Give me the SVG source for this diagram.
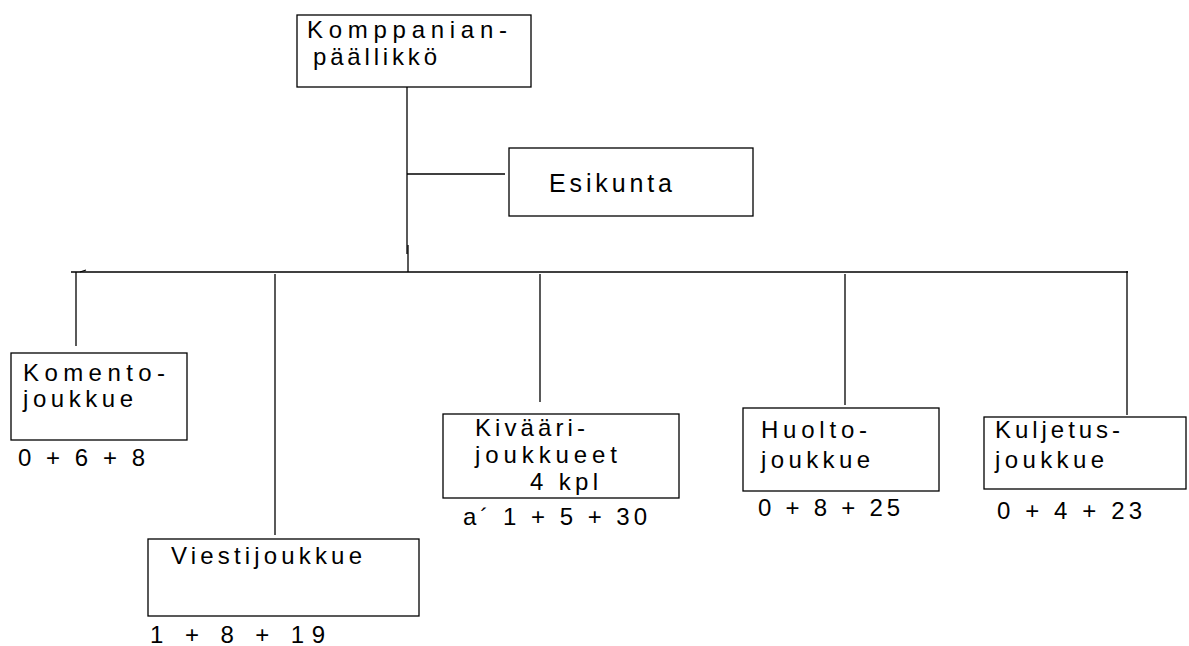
<svg xmlns="http://www.w3.org/2000/svg" width="1189" height="646" viewBox="0 0 1189 646">
<style>
  .box { fill: #fff; stroke: #000; stroke-width: 1.3; }
  .ln { stroke: #000; stroke-width: 1.3; fill: none; }
  text { font-family: "Liberation Sans", Arial, sans-serif; font-size: 24px; fill: #000; }
  .big { font-size: 25px; }
</style>
<rect width="1189" height="646" fill="#fff"/>
<g id="connectors">
  <line class="ln" x1="407" y1="87" x2="407" y2="254"/>
  <line class="ln" x1="408" y1="245" x2="408" y2="272"/>
  <line class="ln" x1="407" y1="174" x2="505" y2="174"/>
  <line class="ln" x1="71" y1="272" x2="1128" y2="272"/>
  <line class="ln" x1="80" y1="272" x2="86" y2="270"/>
  <line class="ln" x1="76" y1="272" x2="76" y2="346"/>
  <line class="ln" x1="275" y1="274" x2="275" y2="535"/>
  <line class="ln" x1="540" y1="274" x2="540" y2="402"/>
  <line class="ln" x1="845" y1="274" x2="845" y2="405"/>
  <line class="ln" x1="1127" y1="271" x2="1127" y2="415"/>
</g>
<g id="n-paallikko">
  <rect class="box" x="297" y="15" width="234" height="72"/>
  <text x="307" y="38" textLength="200" lengthAdjust="spacing">Komppanian-</text>
  <text x="313" y="65" textLength="124" lengthAdjust="spacing">päällikkö</text>
</g>
<g id="n-esikunta">
  <rect class="box" x="509" y="148" width="244" height="68"/>
  <text class="big" x="549" y="192" textLength="123" lengthAdjust="spacing">Esikunta</text>
</g>
<g id="n-komento">
  <rect class="box" x="11" y="353" width="176" height="87"/>
  <text x="23" y="381" textLength="142" lengthAdjust="spacing">Komento-</text>
  <text x="23" y="407" textLength="110" lengthAdjust="spacing">joukkue</text>
  <text x="18" y="466" textLength="127" lengthAdjust="spacing">0 + 6 + 8</text>
</g>
<g id="n-viesti">
  <rect class="box" x="148" y="539" width="271" height="77"/>
  <text x="171" y="564" textLength="191" lengthAdjust="spacing">Viestijoukkue</text>
  <text x="150" y="643" textLength="175" lengthAdjust="spacing">1 + 8 + 19</text>
</g>
<g id="n-kivaari">
  <rect class="box" x="443" y="414" width="236" height="84"/>
  <text x="475" y="436" textLength="110" lengthAdjust="spacing">Kivääri-</text>
  <text x="475" y="463" textLength="142" lengthAdjust="spacing">joukkueet</text>
  <text x="530" y="490" textLength="68" lengthAdjust="spacing">4 kpl</text>
  <text x="463" y="525" textLength="184" lengthAdjust="spacing">a´ 1 + 5 + 30</text>
</g>
<g id="n-huolto">
  <rect class="box" x="743" y="408" width="196" height="83"/>
  <text x="761" y="438" textLength="106" lengthAdjust="spacing">Huolto-</text>
  <text x="761" y="468" textLength="109" lengthAdjust="spacing">joukkue</text>
  <text x="758" y="516" textLength="142" lengthAdjust="spacing">0 + 8 + 25</text>
</g>
<g id="n-kuljetus">
  <rect class="box" x="984" y="417" width="202" height="72"/>
  <text x="995" y="438" textLength="125" lengthAdjust="spacing">Kuljetus-</text>
  <text x="995" y="468" textLength="109" lengthAdjust="spacing">joukkue</text>
  <text x="997" y="519" textLength="145" lengthAdjust="spacing">0 + 4 + 23</text>
</g>
</svg>
